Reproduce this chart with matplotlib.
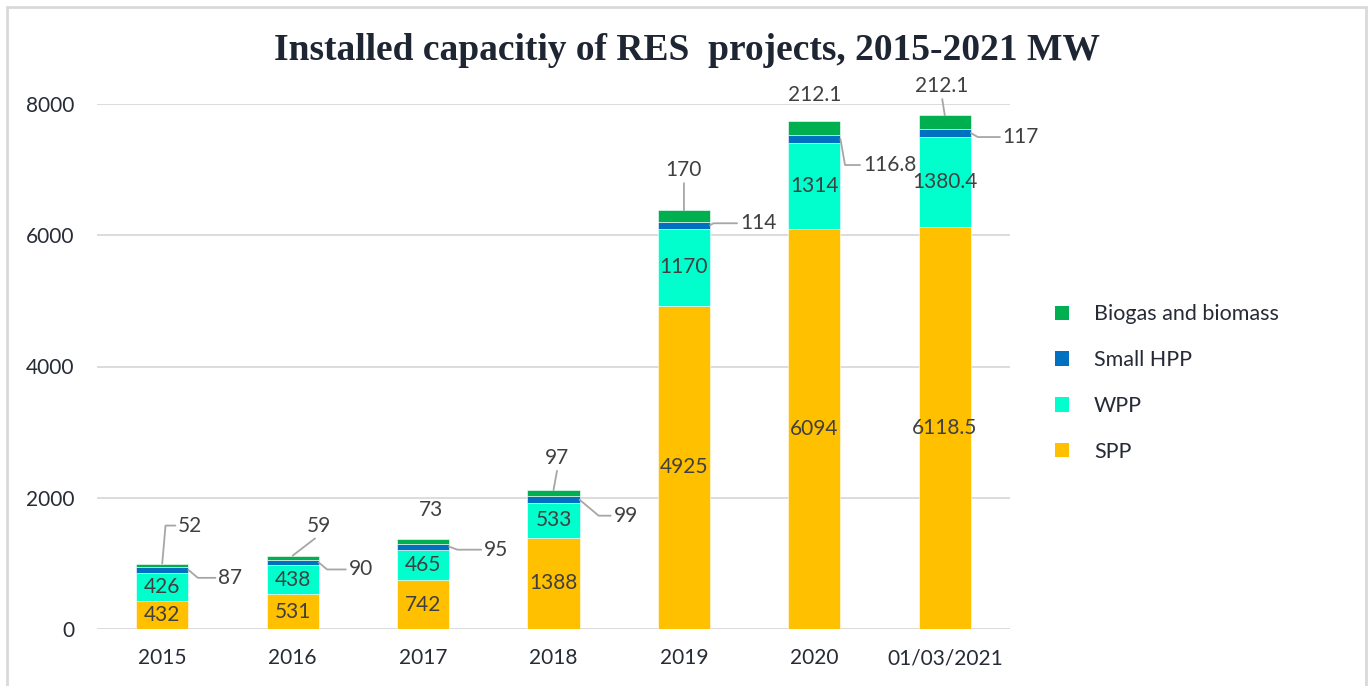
import matplotlib
matplotlib.use("Agg")
import matplotlib.pyplot as plt
from matplotlib.patches import Rectangle, Patch
import numpy as np

# ---- data ----
categories = ["2015", "2016", "2017", "2018", "2019", "2020", "01/03/2021"]
spp = [432, 531, 742, 1388, 4925, 6094, 6118.5]
wpp = [426, 438, 465, 533, 1170, 1314, 1380.4]
small_hpp = [87, 90, 95, 99, 114, 116.8, 117]
biogas = [52, 59, 73, 97, 170, 212.1, 212.1]
series_names = ["SPP", "WPP", "Small HPP", "Biogas and biomass"]
y_ticks = [0, 2000, 4000, 6000, 8000]

# ---- layout / style ----
colors = ["#FFC000", "#00FFCC", "#0070C0", "#00B050"]
label_font = "Lato"
label_color = "#404040"
tick_color = "#262b36"
leader_color = "#a6a6a6"
# label offsets in pixels (dx, dy) relative to anchor
hpp_offsets = [(42, -8), (42, -7), (47, -3), (46, -16), (48, 2), (49, -26), (50, -4)]
hpp_angleB = [-40, -40, -20, -40, 30, -80, -30]
bio_offsets = [(28, 38), (26, 30), (8, 29), (4, 32), (0, 40), (0, 26), (-3, 29)]
bio_leader = ["elbow", "straight", None, "straight", "straight", None, "straight"]

W, H = 1370, 686
fig = plt.figure(figsize=(W / 100, H / 100), dpi=100)
ax = fig.add_axes([97 / W, 1 - 629 / H, (1010 - 97) / W, (629 - 104) / H])

x = np.arange(len(categories))
bw = 0.4
bottom = np.zeros(len(categories))
bars = []
for vals, col in zip([spp, wpp, small_hpp, biogas], colors):
    b = ax.bar(x, vals, bw, bottom=bottom, color=col, edgecolor="white", linewidth=0.4, zorder=3)
    bars.append(b)
    bottom = bottom + np.array(vals)

ax.set_xlim(-0.5, len(categories) - 0.5)
ax.set_ylim(0, 8000)
ax.set_yticks(y_ticks)
ax.set_yticklabels([str(v) for v in y_ticks])
ax.set_xticks(x)
ax.set_xticklabels(categories)
ax.tick_params(axis="both", length=0, labelsize=15, labelcolor=tick_color)
ax.tick_params(axis="y", pad=16)
ax.tick_params(axis="x", pad=14)
for lab in ax.get_xticklabels() + ax.get_yticklabels():
    lab.set_fontfamily(label_font)
ax.grid(axis="y", color="#d9d9d9", linewidth=1.3, zorder=0)
ax.set_axisbelow(True)
for s in ax.spines.values():
    s.set_visible(False)

# centred labels for SPP and WPP
base = np.zeros(len(categories))
for vals in [spp, wpp]:
    for i, v in enumerate(vals):
        ax.text(i, base[i] + v / 2, f"{v:g}", ha="center", va="center", fontsize=15,
                color=label_color, fontfamily=label_font, zorder=5)
    base = base + np.array(vals)

# Small HPP labels with leader lines
for i, v in enumerate(small_hpp):
    yc = base[i] + v / 2
    dx, dy = hpp_offsets[i]
    ax.annotate(f"{v:g}", xy=(i + bw / 2, yc), xytext=(dx, dy), textcoords="offset pixels",
                ha="center", va="center", fontsize=15, color=label_color, fontfamily=label_font,
                annotation_clip=False, zorder=5,
                arrowprops=dict(arrowstyle="-", color=leader_color, lw=1.3, shrinkA=0, shrinkB=0,
                                relpos=(0, 0.5),
                                connectionstyle=f"angle,angleA=0,angleB={hpp_angleB[i]},rad=0"))
base = base + np.array(small_hpp)

# Biogas labels
for i, v in enumerate(biogas):
    top = base[i] + v
    dx, dy = bio_offsets[i]
    kind = bio_leader[i]
    kw = dict(ha="center", va="center", fontsize=15, color=label_color, fontfamily=label_font,
              annotation_clip=False, zorder=5)
    if kind == "elbow":
        kw["arrowprops"] = dict(arrowstyle="-", color=leader_color, lw=1.3, shrinkA=0, shrinkB=0,
                                relpos=(0, 0.5), connectionstyle="angle,angleA=0,angleB=85,rad=0")
    elif kind == "straight":
        kw["arrowprops"] = dict(arrowstyle="-", color=leader_color, lw=1.3, shrinkA=0, shrinkB=0,
                                relpos=(0.5, 0))
    ax.annotate(f"{v:g}", xy=(i, top), xytext=(dx, dy), textcoords="offset pixels", **kw)

# title
fig.text(687 / W, 1 - 50 / H, "Installed capacitiy of RES  projects, 2015-2021 MW",
         ha="center", va="center", fontsize=27, fontweight="bold",
         fontfamily="Liberation Serif", color="#1f2633")

# legend
handles = [Patch(facecolor=c, edgecolor="none") for c in colors]
order = [3, 2, 1, 0]
leg = fig.legend([handles[k] for k in order], [series_names[k] for k in order],
                 loc="center left", bbox_to_anchor=(1036 / W, 1 - 383 / H), frameon=False,
                 prop=dict(family=label_font, size=15.5), labelcolor=tick_color,
                 handlelength=0.65, handleheight=0.65, handletextpad=1.15, labelspacing=1.2)

# outer frame
fig.add_artist(Rectangle((7 / W, -0.05), (1366 - 7) / W, 1.05 - 7 / H, transform=fig.transFigure,
                         fill=False, edgecolor="#d9d9d9", linewidth=2))

fig.savefig("out.png", dpi=100)
